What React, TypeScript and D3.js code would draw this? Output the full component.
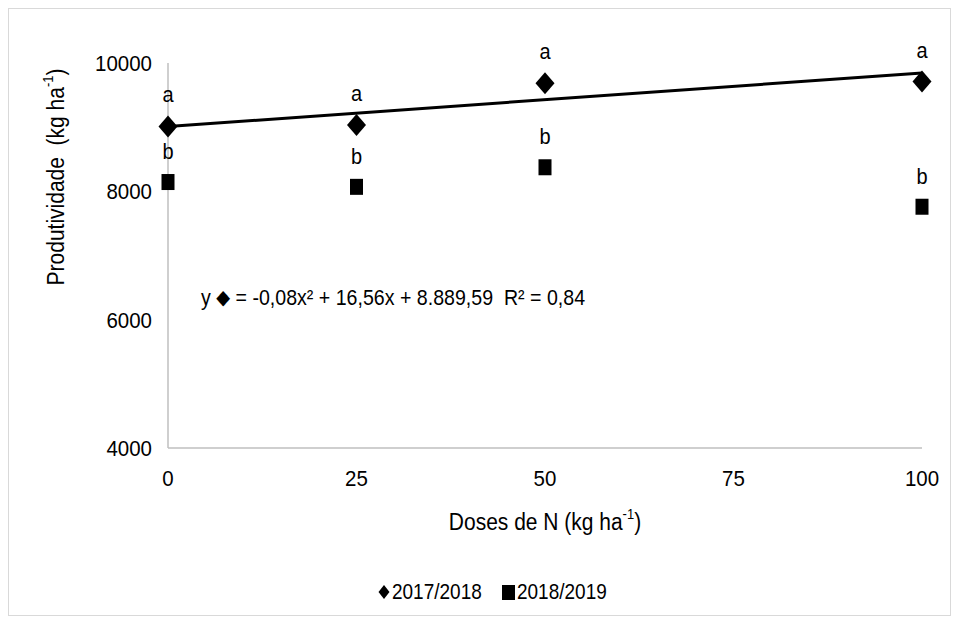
import React from 'react';
import * as d3 from 'd3';

const doses = [0, 25, 50, 100];
const prod1718 = [9010, 9035, 9685, 9710];
const prod1819 = [8145, 8070, 8375, 7760];
const letters1718 = ['a', 'a', 'a', 'a'];
const letters1819 = ['b', 'b', 'b', 'b'];
const trendDoses = [0, 100];
const trendValues = [9010, 9845];
const xTicks = [0, 25, 50, 75, 100];
const yTicks = [4000, 6000, 8000, 10000];
const seriesNames = ['2017/2018', '2018/2019'];

const W = 943;
const H = 608;
const FONT = 'Liberation Sans, Arial, sans-serif';
const STRETCH = 1.12;

// text drawn slightly taller than wide, like the reference
const T = ({ x, y, anchor = 'middle', size = 19, rotate = 0, children }: any) => (
  <text
    transform={`translate(${x},${y}) rotate(${rotate}) scale(1,${STRETCH})`}
    textAnchor={anchor}
    dominantBaseline="central"
    fontFamily={FONT}
    fontSize={size}
    fill="#000"
    style={{ whiteSpace: 'pre' }}
  >
    {children}
  </text>
);

const diamond = (cx: number, cy: number, w: number, h: number) =>
  `M${cx},${cy - h / 2}L${cx + w / 2},${cy}L${cx},${cy + h / 2}L${cx - w / 2},${cy}Z`;

export default function App() {
  const x = d3.scaleLinear().domain([0, 100]).range([160, 914]);
  const y = d3.scaleLinear().domain([4000, 10000]).range([440, 55]);
  const line = d3
    .line<number>()
    .x((_, i) => x(trendDoses[i]))
    .y((d) => y(d));

  return (
    <svg width={W} height={H} style={{ display: 'block' }}>
      <rect x={0.5} y={0.5} width={W - 1} height={H - 1} fill="#fff" stroke="#d9d9d9" />

      {/* axes */}
      <line x1={x(0)} x2={x(0)} y1={y(10000)} y2={y(4000)} stroke="#bfbfbf" strokeWidth={1.5} />
      <line x1={x(0)} x2={x(100)} y1={y(4000)} y2={y(4000)} stroke="#bfbfbf" strokeWidth={1.5} />

      {yTicks.map((t) => (
        <T key={t} x={144} y={y(t)} anchor="end" size={20.5}>{t}</T>
      ))}
      {xTicks.map((t) => (
        <T key={t} x={x(t)} y={y(4000) + 30} size={20.5}>{t}</T>
      ))}

      <T x={537} y={514} size={21}>
        Doses de N (kg ha<tspan fontSize={13} dy={-7}>-1</tspan><tspan dy={7}>)</tspan>
      </T>
      <T x={48} y={169} rotate={-90} size={21}>
        {'Produtividade\u00a0\u00a0(kg ha'}<tspan fontSize={13} dy={-7}>-1</tspan><tspan dy={7}>)</tspan>
      </T>

      {/* trend */}
      <path d={line(trendValues) || ''} fill="none" stroke="#000" strokeWidth={3} />

      {/* points */}
      {doses.map((d, i) => (
        <g key={'a' + d}>
          <path d={diamond(x(d), y(prod1718[i]), 19, 22)} fill="#000" />
          <T x={x(d)} y={y(prod1718[i]) - 32} size={20}>{letters1718[i]}</T>
        </g>
      ))}
      {doses.map((d, i) => (
        <g key={'b' + d}>
          <rect x={x(d) - 6.5} y={y(prod1819[i]) - 8} width={13} height={16} fill="#000" />
          <T x={x(d)} y={y(prod1819[i]) - 31} size={20}>{letters1819[i]}</T>
        </g>
      ))}

      {/* equation */}
      <T x={193} y={289} anchor="start" size={19.6}>
        y <tspan fontFamily="DejaVu Sans" fontSize={18}>◆</tspan>{' = -0,08x² + 16,56x + 8.889,59\u00a0\u00a0R² = 0,84'}
      </T>

      {/* legend */}
      <path d={diamond(376, 584, 11, 14)} fill="#000" />
      <T x={384} y={584} anchor="start">{seriesNames[0]}</T>
      <rect x={494} y={577} width={13} height={15} fill="#000" />
      <T x={509} y={584} anchor="start">{seriesNames[1]}</T>
    </svg>
  );
}
